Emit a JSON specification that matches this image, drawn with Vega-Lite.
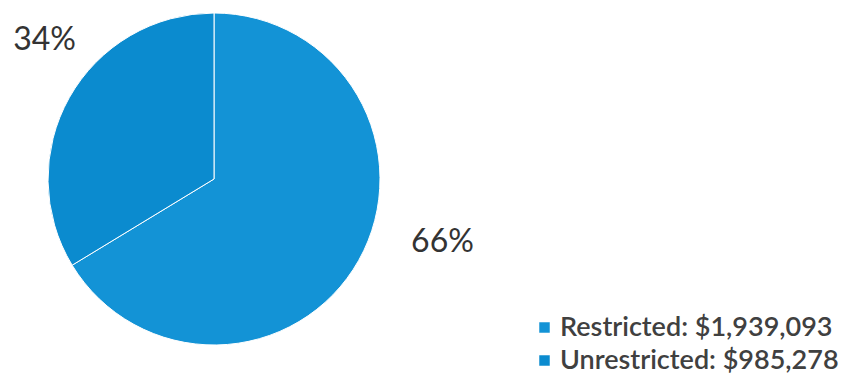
{
  "$schema": "https://vega.github.io/schema/vega-lite/v6.json",
  "width": 428,
  "height": 354,
  "padding": 0,
  "autosize": {"type": "pad"},
  "background": "white",
  "config": {"view": {"stroke": null}, "font": "Lato"},
  "data": {
    "values": [
      {"category": "Restricted: $1,939,093", "amount": 1939093, "pct": "66%"},
      {"category": "Unrestricted: $985,278", "amount": 985278, "pct": "34%"}
    ]
  },
  "encoding": {
    "theta": {"field": "amount", "type": "quantitative", "stack": true},
    "order": {"field": "category", "type": "nominal", "sort": "ascending"},
    "color": {
      "field": "category",
      "type": "nominal",
      "scale": {"domain": ["Restricted: $1,939,093", "Unrestricted: $985,278"], "range": ["#1393d6", "#0b8bcf"]},
      "legend": {
        "orient": "none",
        "legendX": 531,
        "legendY": 312,
        "title": null,
        "symbolType": "square",
        "symbolSize": 110,
        "symbolStrokeWidth": 0,
        "labelFontSize": 27,
        "labelFontWeight": 600,
        "labelColor": "#404040",
        "labelFont": "Lato",
        "rowPadding": 5,
        "labelOffset": 2,
        "labelLimit": 0,
        "padding": 0
      }
    }
  },
  "layer": [
    {"mark": {"type": "arc", "outerRadius": 166, "stroke": "white", "strokeWidth": 1}},
    {
      "mark": {"type": "text", "radius": 230, "dx": 28, "dy": -50, "fontSize": 32, "color": "#333333"},
      "encoding": {
        "text": {"condition": {"test": "datum.pct === '66%'", "field": "pct"}, "value": ""},
        "color": {"value": "#333333"}
      }
    },
    {
      "mark": {"type": "text", "radius": 230, "dx": 31, "dy": -26, "fontSize": 32, "color": "#333333"},
      "encoding": {
        "text": {"condition": {"test": "datum.pct === '34%'", "field": "pct"}, "value": ""},
        "color": {"value": "#333333"}
      }
    }
  ]
}
